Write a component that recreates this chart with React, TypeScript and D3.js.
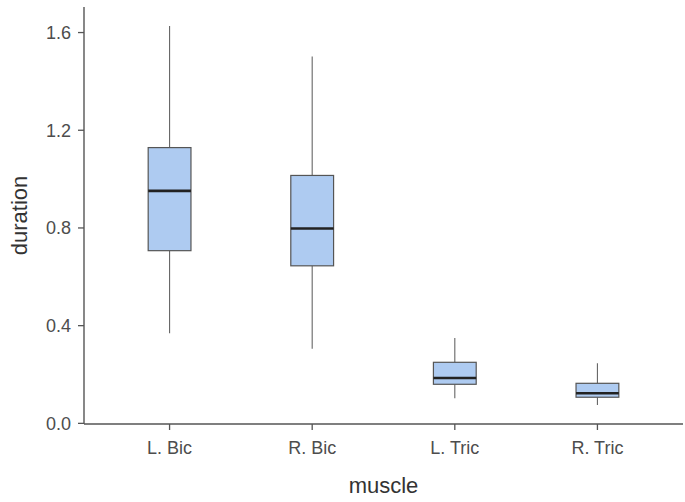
import { useMemo } from "react";
import * as d3 from "d3";

const WIDTH = 685;
const HEIGHT = 502;
const MARGIN = { top: 7, right: 2, bottom: 78, left: 84 };

// five-number summaries
const muscles = ["L. Bic", "R. Bic", "L. Tric", "R. Tric"];
const whiskerLow = [0.369, 0.305, 0.103, 0.075];
const q1 = [0.707, 0.645, 0.16, 0.107];
const median = [0.952, 0.798, 0.186, 0.123];
const q3 = [1.129, 1.015, 0.25, 0.164];
const whiskerHigh = [1.627, 1.502, 0.349, 0.246];
const yTicks = [0, 0.4, 0.8, 1.2, 1.6];

const FONT = "'Liberation Sans', Arial, sans-serif";

const BoxPlot = () => {
  const boundsWidth = WIDTH - MARGIN.left - MARGIN.right;
  const boundsHeight = HEIGHT - MARGIN.top - MARGIN.bottom;

  // ggplot-style discrete axis: 0.6 units of padding each side
  const xScale = useMemo(
    () =>
      d3
        .scaleLinear()
        .domain([0.4, muscles.length + 0.6])
        .range([0, boundsWidth]),
    [boundsWidth]
  );

  const yScale = useMemo(() => {
    const lo = d3.min(whiskerLow) as number;
    const hi = d3.max(whiskerHigh) as number;
    const pad = (hi - lo) * 0.05;
    return d3.scaleLinear().domain([lo - pad, hi + pad]).range([boundsHeight, 0]);
  }, [boundsHeight]);

  const boxHalf = (xScale(1.15) - xScale(0.85)) / 2;

  const boxes = muscles.map((m, i) => {
    const cx = xScale(i + 1);
    return (
      <g key={m}>
        <line
          x1={cx}
          x2={cx}
          y1={yScale(whiskerHigh[i])}
          y2={yScale(q3[i])}
          stroke="#666"
          strokeWidth={1.1}
        />
        <line
          x1={cx}
          x2={cx}
          y1={yScale(q1[i])}
          y2={yScale(whiskerLow[i])}
          stroke="#666"
          strokeWidth={1.1}
        />
        <rect
          x={cx - boxHalf}
          width={boxHalf * 2}
          y={yScale(q3[i])}
          height={yScale(q1[i]) - yScale(q3[i])}
          fill="#aecbf1"
          stroke="#555"
          strokeWidth={1.2}
        />
        <line
          x1={cx - boxHalf}
          x2={cx + boxHalf}
          y1={yScale(median[i])}
          y2={yScale(median[i])}
          stroke="#222"
          strokeWidth={2.6}
        />
      </g>
    );
  });

  return (
    <svg width={WIDTH} height={HEIGHT} style={{ display: "block", background: "#fff" }}>
      <g transform={`translate(${MARGIN.left}, ${MARGIN.top})`} fontFamily={FONT}>
        {boxes}
        {/* axes */}
        <line x1={0} x2={0} y1={0} y2={boundsHeight} stroke="#555" strokeWidth={1.4} />
        <line
          x1={0}
          x2={boundsWidth}
          y1={boundsHeight}
          y2={boundsHeight}
          stroke="#555"
          strokeWidth={1.4}
        />
        {yTicks.map((t) => (
          <g key={t} transform={`translate(0, ${yScale(t)})`}>
            <line x1={-6} x2={0} stroke="#555" strokeWidth={1.3} />
            <text x={-13} dy="0.35em" textAnchor="end" fontSize={18} fill="#4d4d4d">
              {t.toFixed(1)}
            </text>
          </g>
        ))}
        {muscles.map((m, i) => (
          <g key={m} transform={`translate(${xScale(i + 1)}, ${boundsHeight})`}>
            <line y1={0} y2={6} stroke="#555" strokeWidth={1.3} />
            <text y={30} textAnchor="middle" fontSize={18} fill="#4d4d4d">
              {m}
            </text>
          </g>
        ))}
        <text
          x={boundsWidth / 2}
          y={boundsHeight + 69}
          textAnchor="middle"
          fontSize={22}
          fill="#333"
        >
          muscle
        </text>
        <text
          transform={`translate(${-57}, ${boundsHeight / 2}) rotate(-90)`}
          textAnchor="middle"
          fontSize={22}
          fill="#333"
        >
          duration
        </text>
      </g>
    </svg>
  );
};

export default function App() {
  return (
    <div style={{ position: "absolute", left: 0, top: 0 }}>
      <BoxPlot />
    </div>
  );
}
